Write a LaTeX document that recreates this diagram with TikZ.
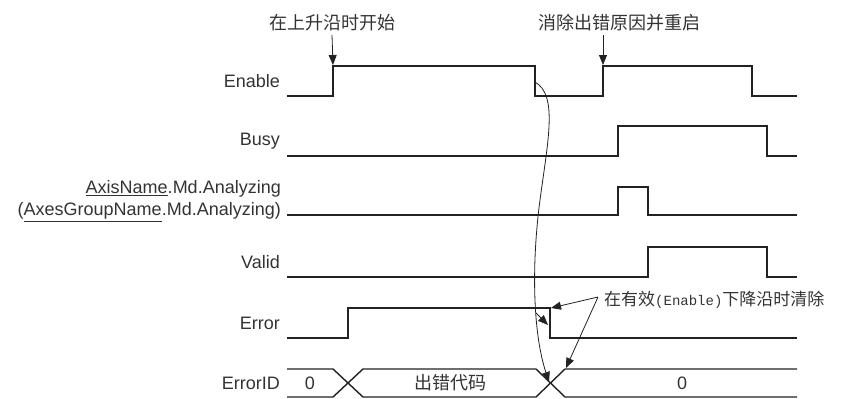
\documentclass[tikz,border=0pt]{standalone}
\usepackage{fontspec}
\setmainfont{Liberation Sans}
\newfontfamily\cjk{Noto Sans CJK SC}
\newfontfamily\narrowmono{Liberation Mono}
\usetikzlibrary{arrows.meta}

\definecolor{ink}{HTML}{222222}
\definecolor{txt}{HTML}{333333}

\begin{document}
\begin{tikzpicture}[x=1pt, y=-1pt,
  wave/.style={line width=1.4pt, draw=ink, line join=miter},
  signame/.style={anchor=east, inner sep=0pt, text=txt,
    font=\fontsize{18}{22}\selectfont},
  busval/.style={inner sep=0pt, text=txt, font=\fontsize{18}{22}\selectfont},
  note/.style={inner sep=0pt, text=txt, font=\cjk\fontsize{18}{22}\selectfont},
  pointer/.style={line width=0.8pt, draw=ink,
    -{Triangle[length=10pt,width=8pt]}}]
\useasboundingbox (0,0) rectangle (844,399);

% signal names
\node[signame] (nEnable) at (280,81) {Enable};
\node[signame] (nBusy) at (280,141) {Busy};
\node[signame, align=right] (nAna) at (281,201)
  {\underline{AxisName}.Md.Analyzing\\(\underline{AxesGroupName}.Md.Analyzing)};
\node[signame] (nValid) at (280,262) {Valid};
\node[signame] (nError) at (280,323) {Error};
\node[signame] (nErrorID) at (280,383) {ErrorID};

% waveforms
\draw[wave] (287,96) -- (333,96) -- (333,66) -- (535,66) -- (535,96)
  -- (603,96) -- (603,66) -- (752,66) -- (752,96) -- (797,96);
\draw[wave] (287,156) -- (618,156) -- (618,126) -- (767,126) -- (767,156) -- (797,156);
\draw[wave] (287,215) -- (618,215) -- (618,187) -- (648,187) -- (648,215) -- (797,215);
\draw[wave] (287,277) -- (648,277) -- (648,247) -- (767,247) -- (767,277) -- (797,277);
\draw[wave] (287,338) -- (348,338) -- (348,308) -- (550,308) -- (550,338) -- (797,338);
% ErrorID bus
\draw[wave] (287,369) -- (333,369) -- (363,397) -- (536,397) -- (565,369) -- (797,369);
\draw[wave] (287,397) -- (333,397) -- (363,369) -- (536,369) -- (565,397) -- (797,397);

% bus values
\node[busval] (v0) at (310,383) {0};
\node[note] (vcode) at (450,383) {出错代码};
\node[busval] (v1) at (682,383) {0};

% annotations
\node[note] (tStart) at (332,23) {在上升沿时开始};
\node[note] (tRestart) at (619,23) {消除出错原因并重启};
\node[note, anchor=west, font=\cjk\fontsize{17}{20}\selectfont] (tClear) at (604,300)
  {在有效{\narrowmono\fontsize{14}{18}\selectfont(Enable)}下降沿时清除};

\coordinate (enRise) at (333,65);
\coordinate (enRise2) at (603,65);
\coordinate (enFall) at (535,82);
\coordinate (errCorner) at (551,308);
\coordinate (errFall) at (548,325);
\coordinate (idCross) at (549,382);
\coordinate (idStart) at (566,368);
\path (tClear.west) ++(-6,-3) coordinate (clearFrom);
\coordinate (branch) at (536,313);

\draw[pointer] (tStart.south |- 0,35) -- (enRise);
\draw[pointer] (enRise2 |- 0,35) -- (enRise2);
\draw[pointer] (enFall) .. controls (558,95) and (548,140) .. (540,200)
  .. controls (532,260) and (532,330) .. (idCross);
\draw[pointer] (branch) -- (errFall);
\draw[pointer] (clearFrom) -- (errCorner);
\draw[pointer] (clearFrom) -- (idStart);
\end{tikzpicture}
\end{document}
